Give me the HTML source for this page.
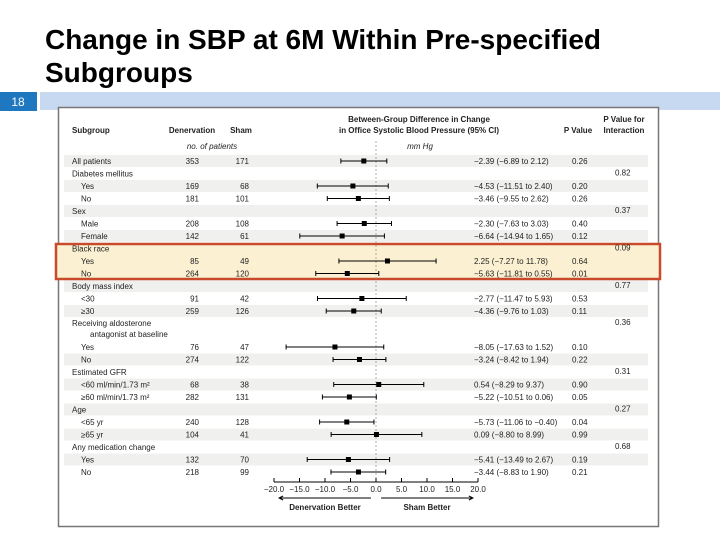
<!DOCTYPE html>
<html><head><meta charset="utf-8"><style>
body{margin:0;background:#fff;width:720px;height:540px;overflow:hidden;font-family:"Liberation Sans",sans-serif}
svg{position:absolute;left:0;top:0}
</style></head><body>
<svg width="720" height="540" font-family="Liberation Sans, sans-serif">
<text x="45" y="49" font-size="28" font-weight="bold" fill="#000" textLength="556" lengthAdjust="spacingAndGlyphs">Change in SBP at 6M Within Pre-specified</text>
<text x="45" y="82" font-size="28" font-weight="bold" fill="#000">Subgroups</text>
<rect x="0" y="92" width="37" height="19" fill="#1f77c0"/>
<text x="18" y="106" font-size="12" fill="#fff" text-anchor="middle">18</text>
<rect x="40" y="92" width="680" height="18" fill="#c6d9f0"/>
<rect x="58.5" y="107.5" width="600" height="419" fill="#fff" stroke="#777" stroke-width="1.5"/>
<g id="plot" font-size="8" fill="#222"></g>
</svg>
<script>
const labels=["All patients","Diabetes mellitus","Yes","No","Sex","Male","Female","Black race","Yes","No","Body mass index","<30","≥30","Receiving aldosterone","antagonist at baseline","Yes","No","Estimated GFR","<60 ml/min/1.73 m²","≥60 ml/min/1.73 m²","Age","<65 yr","≥65 yr","Any medication change","Yes","No"];
const denervation=[353,null,169,181,null,208,142,null,85,264,null,91,259,null,null,76,274,null,68,282,null,240,104,null,132,218];
const sham=[171,null,68,101,null,108,61,null,49,120,null,42,126,null,null,47,122,null,38,131,null,128,41,null,70,99];
const estimate=[-2.39,null,-4.53,-3.46,null,-2.30,-6.64,null,2.25,-5.63,null,-2.77,-4.36,null,null,-8.05,-3.24,null,0.54,-5.22,null,-5.73,0.09,null,-5.41,-3.44];
const lower=[-6.89,null,-11.51,-9.55,null,-7.63,-14.94,null,-7.27,-11.81,null,-11.47,-9.76,null,null,-17.63,-8.42,null,-8.29,-10.51,null,-11.06,-8.80,null,-13.49,-8.83];
const upper=[2.12,null,2.40,2.62,null,3.03,1.65,null,11.78,0.55,null,5.93,1.03,null,null,1.52,1.94,null,9.37,0.06,null,-0.40,8.99,null,2.67,1.90];
const pValues=["0.26","","0.20","0.26","","0.40","0.12","","0.64","0.01","","0.53","0.11","","","0.10","0.22","","0.90","0.05","","0.04","0.99","","0.19","0.21"];
const pInteraction=["","0.82","","","0.37","","","0.09","","","0.77","","","0.36","","","","0.31","","","0.27","","","0.68","",""];
const indent=[0,0,1,1,0,1,1,0,1,1,0,1,1,0,2,1,1,0,1,1,0,1,1,0,1,1];
const ticks=[-20,-15,-10,-5,0,5,10,15,20];
const rowY=[161,173.5,186,198.5,211,223.5,236,248.5,261,273.5,286,298.5,311,323,334,347,359.5,372,384.5,397,409.5,422,434.5,447,459.5,472];
const NS="http://www.w3.org/2000/svg";
const g=document.getElementById('plot');
const X=v=>376+(v)*5.1;
function el(t,a,txt){const e=document.createElementNS(NS,t);for(const k in a)e.setAttribute(k,a[k]);if(txt!=null)e.textContent=txt;g.appendChild(e);return e;}
const f=v=>(v<0?"−":"")+Math.abs(v).toFixed(2);
rowY.forEach((y,i)=>{ if(i%2===0&&i!==14){const b=el('rect',{x:64,y:y-6,width:584,height:12,fill:'#f0f0ef'});

}});
const hl=el('rect',{x:56,y:244,width:604,height:35,fill:'#fbf1d2',stroke:'#c84a2a','stroke-width':2.5});


const hd=[[72,133,"Subgroup","start"],[192,133,"Denervation","middle"],[241,133,"Sham","middle"],[419,122,"Between-Group Difference in Change","middle"],[419,133,"in Office Systolic Blood Pressure (95% CI)","middle"],[578,133,"P Value","middle"],[624,122,"P Value for","middle"],[624,133,"Interaction","middle"]];
hd.forEach(h=>{const t=el('text',{x:h[0],y:h[1],'text-anchor':h[3],'font-weight':'bold'},h[2]);

});
const s1=el('text',{x:212,y:149,'text-anchor':'middle','font-style':'italic'},"no. of patients");


const s2=el('text',{x:420,y:149,'text-anchor':'middle','font-style':'italic'},"mm Hg");


const z=el('line',{x1:X(0),x2:X(0),y1:141,y2:480,stroke:'#999','stroke-dasharray':'2,2','stroke-width':0.8});


labels.forEach((lab,i)=>{
 const y=rowY[i]+3;
 const t=el('text',{x:72+indent[i]*9,y:y},lab);
 
 
 if(denervation[i]!=null){
  const a=el('text',{x:199,y:y,'text-anchor':'end'},denervation[i]);
  
  
  const b=el('text',{x:249,y:y,'text-anchor':'end'},sham[i]);
  
  
 }
 if(estimate[i]!=null){
  const yc=rowY[i];
  const l=el('line',{x1:X(lower[i]),x2:X(upper[i]),y1:yc,y2:yc,stroke:'#000','stroke-width':1});
  
  
  [lower[i],upper[i]].forEach(v=>{const c=el('line',{x1:X(v),x2:X(v),y1:yc-2.5,y2:yc+2.5,stroke:'#000','stroke-width':1});
  
  });
  const p=el('rect',{x:X(estimate[i])-2.5,y:yc-2.5,width:5,height:5,fill:'#000'});
  
  
  const ct=el('text',{x:474,y:y},f(estimate[i])+" ("+f(lower[i])+" to "+f(upper[i])+")");
  
  
 }
 if(pValues[i]){const pv=el('text',{x:572,y:y},pValues[i]);
  
  }
 if(pInteraction[i]){const pi=el('text',{x:615,y:y-1},pInteraction[i]);
  
  }
});
const ax=el('line',{x1:X(-20),x2:X(20),y1:482,y2:482,stroke:'#000','stroke-width':1});


ticks.forEach(v=>{
 const tl=el('line',{x1:X(v),x2:X(v),y1:478,y2:482,stroke:'#000'});
 
 
 const tt=el('text',{x:X(v),y:492,'text-anchor':'middle'},(v<0?"−":"")+Math.abs(v).toFixed(1));
 
 
});
const a1=el('path',{d:`M${X(-1)} 498 H${X(-19)} M${X(-19)+4} 496 L${X(-19)} 498 L${X(-19)+4} 500`,stroke:'#000',fill:'none'});


const a2=el('path',{d:`M${X(1)} 498 H${X(19)} M${X(19)-4} 496 L${X(19)} 498 L${X(19)-4} 500`,stroke:'#000',fill:'none'});


const d1=el('text',{x:X(-10),y:510,'text-anchor':'middle','font-weight':'bold'},"Denervation Better");


const d2=el('text',{x:X(10),y:510,'text-anchor':'middle','font-weight':'bold'},"Sham Better");


</script>
</body></html>
